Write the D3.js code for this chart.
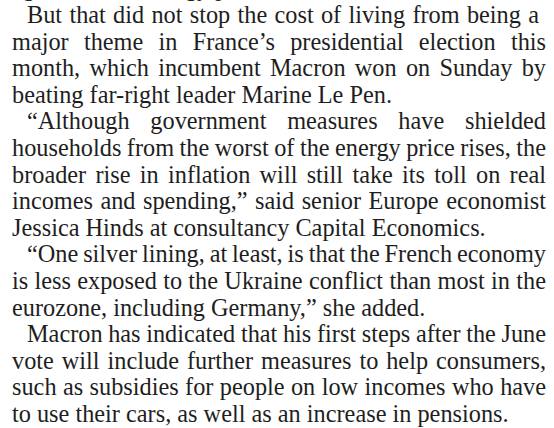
<!DOCTYPE html>
<html>
<head>
<meta charset="utf-8">
<script src="https://cdn.jsdelivr.net/npm/d3@7"></script>
<style>
  html, body { margin: 0; padding: 0; background: #fff; }
  svg { display: block; }
</style>
</head>
<body>
<div id="vis"></div>
<script>
var WIDTH = 554
var HEIGHT = 428

// text lines as set in the column (line 0 is the clipped tail of the paragraph above)
var lines = [
    "agreed to the energy price limit.",
    "But that did not stop the cost of living from being a",
    "major theme in France\u2019s presidential election this",
    "month, which incumbent Macron won on Sunday by",
    "beating far-right leader Marine Le Pen.",
    "\u201CAlthough government measures have shielded",
    "households from the worst of the energy price rises, the",
    "broader rise in inflation will still take its toll on real",
    "incomes and spending,\u201D said senior Europe economist",
    "Jessica Hinds at consultancy Capital Economics.",
    "\u201COne silver lining, at least, is that the French economy",
    "is less exposed to the Ukraine conflict than most in the",
    "eurozone, including Germany,\u201D she added.",
    "Macron has indicated that his first steps after the June",
    "vote will include further measures to help consumers,",
    "such as subsidies for people on low incomes who have",
    "to use their cars, as well as an increase in pensions."
]
// first line of a paragraph
var indented = [false, true, false, false, false, true, false, false, false, false, true, false, false, true, false, false, false]
// last line of a paragraph is set ragged
var ragged = [true, false, false, false, true, false, false, false, false, true, false, false, true, false, false, false, true]

var left = 12
var indent = 15
var right = 546

var svg = d3.select('#vis').append('svg')
    .attr('width', WIDTH)
    .attr('height', HEIGHT)

svg.append('rect')
    .attr('width', WIDTH)
    .attr('height', HEIGHT)
    .attr('fill', '#fff')

// baseline of each line
var y = d3.scaleLinear()
    .domain([0, 1])
    .range([-3.6, 23])

var g = svg.append('g')
    .attr('font-family', '"Liberation Serif", "Times New Roman", serif')
    .attr('font-size', 24.3)
    .attr('fill', '#1e1e1e')

// hidden text used for measuring words
var probe = g.append('text').attr('x', -1000).attr('y', -1000)
function measure(s) {
    probe.text(s)
    return probe.node().getComputedTextLength()
}

lines.forEach(function (line, i) {
    var x0 = left + (indented[i] ? indent : 0)
    var text = g.append('text')
        .attr('y', y(i))

    if (ragged[i]) {
        text.attr('x', x0).text(line)
        return
    }

    var words = line.split(' ')
    var widths = words.map(measure)
    var total = d3.sum(widths)
    var rightEdge = i == 1 ? right - 7 : right
    var gap = (rightEdge - x0 - total) / (words.length - 1)
    var x = x0
    words.forEach(function (w, j) {
        text.append('tspan')
            .attr('x', x)
            .text(w)
        x += widths[j] + gap
    })
})

probe.remove()
</script>
</body>
</html>
